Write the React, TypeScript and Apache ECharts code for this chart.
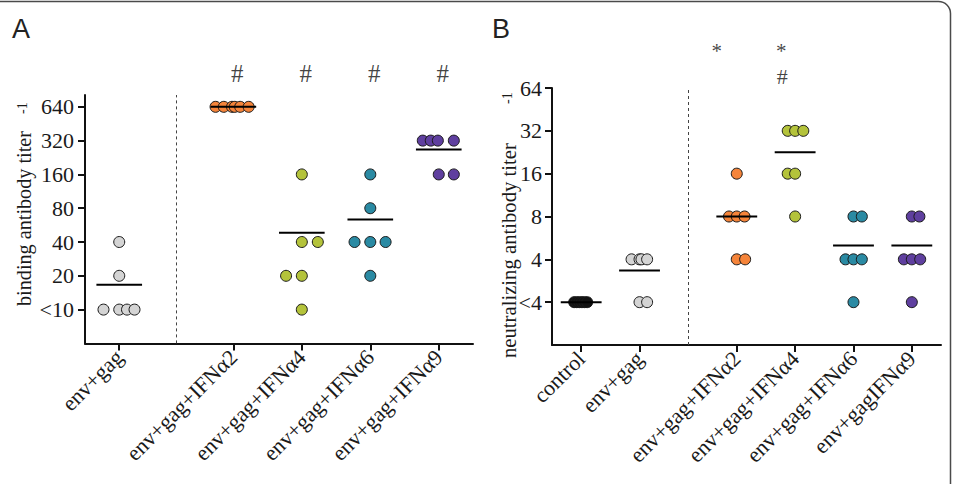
import React, { useEffect, useRef } from "react";
import * as echarts from "echarts";

const SERIF = "Liberation Serif";
const SANS = "Liberation Sans";

// ---- Panel A: binding antibody titers ----
const A_CATEGORIES = ["env+gag", "env+gag+IFNα2", "env+gag+IFNα4", "env+gag+IFNα6", "env+gag+IFNα9"];
const A_POSITIONS = [1.5, 6.5, 9.5, 12.5, 15.5];
const A_COLORS = ["#d4d4d4", "#f5843a", "#b4c33b", "#2a8aa3", "#5f3f9f"];
const A_BELOW = 10; // "<10" is drawn at 10
const A_TITERS = [
  [40, 20, 10, 10, 10, 10],
  [640, 640, 640, 640, 640, 640],
  [160, 40, 40, 20, 20, 10],
  [160, 80, 40, 40, 40, 20],
  [320, 320, 320, 320, 160, 160],
];
const A_JITTER = [
  [0, 0, -0.69, 0, 0.34, 0.67],
  [-0.78, -0.42, -0.06, 0.06, 0.3, 0.67],
  [0, 0, 0.7, -0.69, 0, 0],
  [0, 0, -0.69, 0, 0.67, 0],
  [-0.7, -0.35, -0.04, 0.66, 0, 0.66],
];
const A_TICKS = ["<10", "20", "40", "80", "160", "320", "640"];
const A_HASH = ["", "#", "#", "#", "#"];
const A_TITLE = "binding antibody titer";

// ---- Panel B: neutralizing antibody titers ----
const B_CATEGORIES = ["control", "env+gag", "env+gag+IFNα2", "env+gag+IFNα4", "env+gag+IFNα6", "env+gagIFNα9"];
const B_POSITIONS = [1.5, 4.5, 9.5, 12.5, 15.5, 18.5];
const B_COLORS = ["#111111", "#d4d4d4", "#f5843a", "#b4c33b", "#2a8aa3", "#5f3f9f"];
const B_BELOW = 2; // "<4" is drawn at 2
const B_TITERS = [
  [2, 2, 2, 2, 2, 2],
  [4, 4, 4, 4, 2, 2],
  [16, 8, 8, 8, 4, 4],
  [32, 32, 32, 16, 16, 8],
  [8, 8, 4, 4, 4, 2],
  [8, 8, 4, 4, 4, 2],
];
const B_JITTER = [
  [-0.36, -0.23, -0.09, 0.04, 0.17, 0.31],
  [-0.41, 0, 0.1, 0.39, 0, 0.39],
  [0, -0.4, 0, 0.4, 0, 0.43],
  [-0.38, 0, 0.42, -0.38, 0, 0],
  [0, 0.43, -0.41, 0, 0.43, 0],
  [0, 0.39, -0.41, 0, 0.43, 0],
];
const B_TICKS = ["<4", "4", "8", "16", "32", "64"];
const B_STAR = ["", "", "*", "*", "", ""];
const B_HASH = ["", "", "", "#", "", ""];
const B_TITLE = "neutralizing antibody titer";
const TITLE_SUP = "-1";

const mean = (a: number[]) => a.reduce((s, v) => s + v, 0) / a.length;

function buildPanel(
  gi: number,
  positions: number[],
  colors: string[],
  titers: number[][],
  jitter: number[][],
  below: number,
  halfWidth: number,
  separator: number
) {
  const tr = (v: number) => Math.log2(v / below);
  const series: any[] = [];
  titers.forEach((vals, g) => {
    series.push({
      type: "scatter",
      xAxisIndex: gi,
      yAxisIndex: gi,
      symbol: "circle",
      symbolSize: 11,
      z: 3,
      itemStyle: { color: colors[g], borderColor: "#1a1a1a", borderWidth: 1, opacity: 1 },
      data: vals.map((v, i) => [positions[g] + jitter[g][i], tr(v)]),
    });
  });
  series.push({
    type: "custom",
    xAxisIndex: gi,
    yAxisIndex: gi,
    z: 5,
    renderItem: (params: any, api: any) => {
      const x = api.value(0);
      const y = api.value(1);
      const p1 = api.coord([x - halfWidth, y]);
      const p2 = api.coord([x + halfWidth, y]);
      return {
        type: "line",
        shape: { x1: p1[0], y1: p1[1], x2: p2[0], y2: p2[1] },
        style: { stroke: "#000", lineWidth: 2 },
      };
    },
    data: titers.map((vals, g) => [positions[g], tr(mean(vals))]),
    markLine: {
      silent: true,
      symbol: "none",
      label: { show: false },
      lineStyle: { type: [3, 3], color: "#444", width: 1 },
      data: [{ xAxis: separator }],
    },
  });
  return series;
}

function markSeries(
  gi: number,
  positions: number[],
  texts: string[],
  level: number,
  dx: number[],
  fontSize: number,
  lineHeight: number
) {
  const data: any[] = [];
  texts.forEach((t, g) => {
    if (t) data.push({ value: [positions[g], level], name: t, label: { offset: [dx[g], 0] } });
  });
  return {
    type: "scatter",
    xAxisIndex: gi,
    yAxisIndex: gi,
    clip: false,
    symbolSize: 0,
    silent: true,
    label: {
      show: true,
      position: "inside",
      fontFamily: SERIF,
      fontSize,
      lineHeight,
      color: "#111",
      formatter: (p: any) => p.name,
    },
    data,
  };
}

function xAxisFor(gi: number, positions: number[], cats: string[], max: number) {
  return {
    type: "value",
    gridIndex: gi,
    min: 0,
    max,
    splitLine: { show: false },
    axisLine: { show: true, onZero: false, lineStyle: { color: "#111", width: 2 } },
    axisTick: { show: true, length: 7, lineStyle: { color: "#111", width: 2 }, customValues: positions },
    axisLabel: {
      show: true,
      customValues: positions,
      rotate: 45,
      margin: 10,
      fontFamily: SERIF,
      fontSize: 22,
      color: "#1a1a1a",
      formatter: (v: number) => {
        const i = positions.findIndex((p) => Math.abs(p - v) < 1e-6);
        return i >= 0 ? cats[i] : "";
      },
    },
  };
}

function yAxisFor(gi: number, ticks: string[], max: number, margin: number) {
  const vals = ticks.map((_, i) => i);
  return {
    type: "value",
    gridIndex: gi,
    min: -1,
    max,
    splitLine: { show: false },
    axisLine: { show: true, onZero: false, lineStyle: { color: "#111", width: 2 } },
    axisTick: { show: true, length: 7, lineStyle: { color: "#111", width: 2 }, customValues: vals },
    axisLabel: {
      show: true,
      customValues: vals,
      margin,
      fontFamily: SERIF,
      fontSize: 22,
      color: "#1a1a1a",
      formatter: (v: number) => ticks[Math.round(v)] ?? "",
    },
  };
}

function rotatedText(text: string, x: number, y: number, size: number) {
  return {
    type: "text",
    x,
    y,
    rotation: Math.PI / 2,
    silent: true,
    style: {
      text,
      align: "left",
      verticalAlign: "middle",
      fontFamily: SERIF,
      fontSize: size,
      fill: "#1a1a1a",
    },
  };
}

export default function App() {
  const ref = useRef<HTMLDivElement>(null);
  useEffect(() => {
    if (!ref.current) return;
    const chart = echarts.init(ref.current, null, { renderer: "svg" });
    const option: any = {
      animation: false,
      backgroundColor: "#ffffff",
      grid: [
        { left: 85, top: 95, width: 388, height: 248.4 },
        { left: 552, top: 88, width: 389, height: 257 },
      ],
      xAxis: [xAxisFor(0, A_POSITIONS, A_CATEGORIES, 17), xAxisFor(1, B_POSITIONS, B_CATEGORIES, 20)],
      yAxis: [yAxisFor(0, A_TICKS, 6.35, 11), yAxisFor(1, B_TICKS, 5, 10)],
      series: [
        ...buildPanel(0, A_POSITIONS, A_COLORS, A_TITERS, A_JITTER, A_BELOW, 1.0, 4),
        ...buildPanel(1, B_POSITIONS, B_COLORS, B_TITERS, B_JITTER, B_BELOW, 1.05, 7),
        markSeries(0, A_POSITIONS, A_HASH, 7.0, [0, 4, 4, 4, 4], 25, 25),
        markSeries(1, B_POSITIONS, B_STAR, 5.87, [0, 0, -20, -14, 0, 0], 21, 20),
        markSeries(1, B_POSITIONS, B_HASH, 5.28, [0, 0, 0, -13, 0, 0], 22, 22),
      ],
      graphic: [
        {
          type: "rect",
          silent: true,
          z: -10,
          shape: { x: -20, y: 1.5, width: 970.5, height: 520, r: 12 },
          style: { fill: "none", stroke: "#4a4a4a", lineWidth: 1.5 },
        },
        {
          type: "text",
          left: 12,
          top: 15,
          style: { text: "A", fontFamily: SANS, fontSize: 27, fill: "#222" },
        },
        {
          type: "text",
          left: 492,
          top: 15,
          style: { text: "B", fontFamily: SANS, fontSize: 27, fill: "#222" },
        },
        rotatedText(A_TITLE, 24, 306, 20.2),
        rotatedText(TITLE_SUP, 22, 114, 14),
        rotatedText(B_TITLE, 508.5, 358, 20.7),
        rotatedText(TITLE_SUP, 507, 104, 14),
      ],
    };
    chart.setOption(option);
    return () => chart.dispose();
  }, []);
  return (
    <div
      ref={ref}
      style={{ position: "fixed", left: 0, top: 0, width: 953, height: 484, background: "#fff" }}
    />
  );
}
